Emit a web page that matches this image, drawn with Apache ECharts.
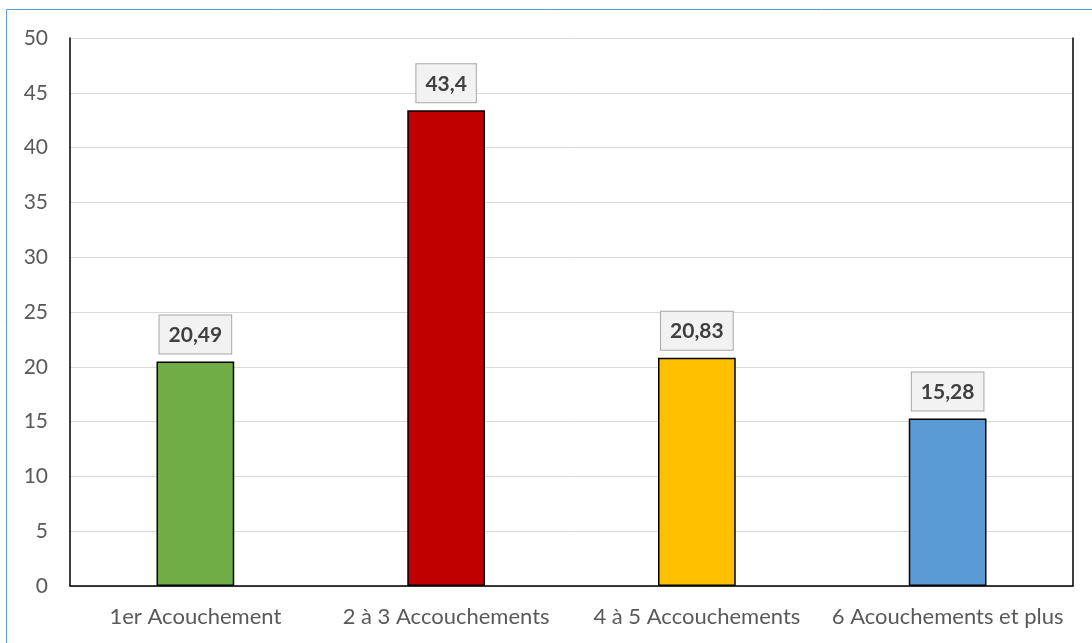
<!DOCTYPE html>
<html>
<head>
<meta charset="utf-8">
<script src="https://cdn.jsdelivr.net/npm/echarts@6/dist/echarts.min.js"></script>
<style>
  html, body { margin: 0; padding: 0; background: #fff; }
  #chart { width: 1092px; height: 643px; }
</style>
</head>
<body>
<div id="chart"></div>
<script>
// Répartition selon la parité
const categories = ['1er Acouchement', '2 à 3 Accouchements', '4 à 5 Accouchements', '6 Acouchements et plus'];
const values = [20.49, 43.4, 20.83, 15.28];
const barColors = ['#70AD47', '#C00000', '#FFC000', '#5B9BD5'];
const yTicks = [0, 5, 10, 15, 20, 25, 30, 35, 40, 45, 50];

const FONT = 'Lato, "Open Sans", sans-serif';

const chart = echarts.init(document.getElementById('chart'), null, { renderer: 'canvas' });

chart.setOption({
  animation: false,
  backgroundColor: '#fff',
  graphic: [{
    type: 'rect',
    shape: { x: 6.5, y: 9.5, width: 1200, height: 800 },
    style: { fill: 'none', stroke: '#5B9BD5', lineWidth: 1 },
    silent: true,
    z: 100
  }],
  grid: { left: 70, top: 38, right: 19, bottom: 57, containLabel: false },
  xAxis: [{
    type: 'category',
    data: categories,
    position: 'bottom',
    axisLine: { show: true, lineStyle: { color: '#BFBFBF', width: 1 } },
    axisTick: { show: false },
    axisLabel: { color: '#595959', fontSize: 22, fontFamily: FONT, margin: 20, interval: 0 }
  }, {
    type: 'category',
    data: categories,
    position: 'top',
    axisLine: { show: true, lineStyle: { color: '#000', width: 1.5 } },
    axisTick: { show: false },
    axisLabel: { show: false }
  }],
  yAxis: [{
    type: 'value',
    min: yTicks[0],
    max: yTicks[yTicks.length - 1],
    interval: 5,
    position: 'left',
    axisLine: { show: true, lineStyle: { color: '#000', width: 1.5 } },
    axisTick: { show: false },
    axisLabel: { color: '#595959', fontSize: 21, fontFamily: FONT, margin: 22 },
    splitLine: { show: true, lineStyle: { color: '#D9D9D9', width: 1 } }
  }, {
    type: 'value',
    min: yTicks[0],
    max: yTicks[yTicks.length - 1],
    interval: 5,
    position: 'right',
    axisLine: { show: true, lineStyle: { color: '#000', width: 1.5 } },
    axisTick: { show: false },
    axisLabel: { show: false },
    splitLine: { show: false }
  }],
  series: [{
    type: 'bar',
    xAxisIndex: 0,
    yAxisIndex: 0,
    barWidth: '31%',
    data: values.map((v, i) => ({
      value: v,
      itemStyle: { color: barColors[i], borderColor: '#000', borderWidth: 1.5 }
    })),
    label: {
      show: true,
      position: 'top',
      distance: 8,
      formatter: p => String(p.value).replace('.', ','),
      color: '#404040',
      fontWeight: 'bold',
      fontSize: 21,
      fontFamily: FONT,
      backgroundColor: '#F2F2F2',
      borderColor: '#A6A6A6',
      borderWidth: 1,
      padding: [9, 9, 8, 9]
    }
  }]
});
</script>
</body>
</html>
